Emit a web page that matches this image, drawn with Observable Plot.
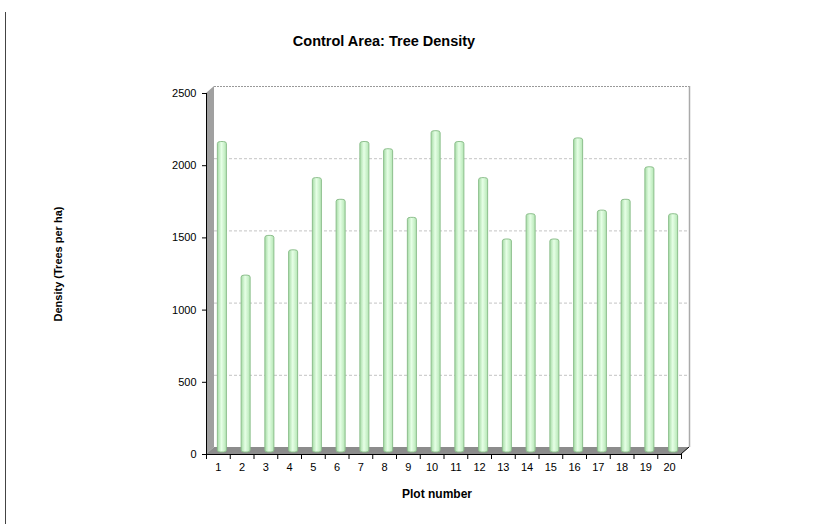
<!DOCTYPE html>
<html>
<head>
<meta charset="utf-8">
<script src="https://cdn.jsdelivr.net/npm/d3@7"></script>
<script src="https://cdn.jsdelivr.net/npm/@observablehq/plot@0.6"></script>
<style>
  html, body { margin: 0; padding: 0; background: #fff; }
  #chart { position: relative; width: 813px; height: 524px; }
  #edge { position: absolute; left: 5px; top: 12px; width: 1px; height: 512px; background: #444; }
  svg { font-family: "Liberation Sans", Arial, sans-serif; }
</style>
</head>
<body>
<div id="chart"><div id="edge"></div></div>
<script>
const plots = [1, 2, 3, 4, 5, 6, 7, 8, 9, 10, 11, 12, 13, 14, 15, 16, 17, 18, 19, 20];
const density = [2150, 1225, 1500, 1400, 1900, 1750, 2150, 2100, 1625, 2225, 2150, 1900, 1475, 1650, 1475, 2175, 1675, 1750, 1975, 1650];
const yTicks = [0, 500, 1000, 1500, 2000, 2500];
const title = "Control Area: Tree Density";
const xLabel = "Plot number";
const yLabel = "Density (Trees per ha)";

const data = plots.map((p, i) => ({plot: p, value: density[i]}));
const edges = d3.range(0.5, 21, 1);

const DX = 8, DY = -7;

// 3D walls / floor + gradient defs, derived from scales
function decor(index, scales, values, dims) {
  const ns = "http://www.w3.org/2000/svg";
  const g = document.createElementNS(ns, "g");
  const x0 = scales.x(0.5), x1 = scales.x(20.5);
  const y0 = scales.y(0), y1 = scales.y(2500);
  const defs = document.createElementNS(ns, "defs");
  defs.innerHTML = `<linearGradient id="barg" x1="0" x2="1" y1="0" y2="0">
      <stop offset="0" stop-color="#a6dca6"/>
      <stop offset="0.45" stop-color="#e6ffe6"/>
      <stop offset="1" stop-color="#b4e6b4"/>
    </linearGradient>`;
  g.appendChild(defs);
  const wall = document.createElementNS(ns, "polygon");
  wall.setAttribute("points", `${x0},${y0} ${x0},${y1} ${x0 + DX},${y1 + DY} ${x0 + DX},${y0 + DY}`);
  wall.setAttribute("fill", "#a0a0a0");
  g.appendChild(wall);
  const floor = document.createElementNS(ns, "polygon");
  floor.setAttribute("points", `${x0},${y0} ${x1},${y0} ${x1 + DX},${y0 + DY} ${x0 + DX},${y0 + DY}`);
  floor.setAttribute("fill", "#8c8c8c");
  g.appendChild(floor);
  const diag = document.createElementNS(ns, "line");
  diag.setAttribute("x1", x1); diag.setAttribute("y1", y0);
  diag.setAttribute("x2", x1 + DX); diag.setAttribute("y2", y0 + DY);
  diag.setAttribute("stroke", "#000");
  g.appendChild(diag);
  return g;
}

const chart = Plot.plot({
  width: 813,
  height: 524,
  marginLeft: 206,
  marginRight: 132,
  marginTop: 93,
  marginBottom: 70,
  style: {fontFamily: "'Liberation Sans', Arial, sans-serif", fontSize: "11px", color: "#000"},
  x: {domain: [0.5, 20.5]},
  y: {domain: [0, 2500]},
  marks: [
    // back plane gridlines
    Plot.ruleY(yTicks.slice(1, -1), {dx: DX, dy: DY, stroke: "#c4c4c4", strokeDasharray: "3,2", strokeOpacity: 1}),
    Plot.ruleY([2500], {dx: DX, dy: DY, stroke: "#999", strokeDasharray: "2,1"}),
    Plot.ruleX([20.5], {dx: DX, dy: DY, stroke: "#aaa", strokeWidth: 1.5}),
    decor,
    Plot.rectY(data, {
      x1: d => d.plot - 0.19, x2: d => d.plot + 0.19, y1: 0, y2: "value",
      dx: 4, dy: -2,
      fill: "url(#barg)", stroke: "#8dbf8d", strokeWidth: 1, rx: 3, ry: 2
    }),
    Plot.ruleY([0], {stroke: "#000"}),
    Plot.ruleX([0.5], {stroke: "#000"}),
    Plot.axisY({ticks: yTicks, tickSize: 4, tickPadding: 6, label: null, tickFormat: d => String(d)}),
    Plot.axisX({ticks: edges, tickSize: 5, tickFormat: () => "", label: null}),
    Plot.axisX({ticks: plots, tickSize: 0, tickPadding: 9, label: null, tickFormat: d => String(d)}),
    Plot.text([title], {frameAnchor: "top", dx: -60, dy: -48, fontWeight: "bold", fontSize: 14.5, lineAnchor: "bottom"}),
    Plot.text([xLabel], {frameAnchor: "bottom", dx: -7, dy: 43, fontWeight: "bold", fontSize: 12, lineAnchor: "bottom"}),
    Plot.text([yLabel], {frameAnchor: "left", dx: -148, dy: -10, rotate: -90, textAnchor: "middle", fontWeight: "bold", fontSize: 11})
  ]
});
document.getElementById("chart").appendChild(chart);
</script>
</body>
</html>
